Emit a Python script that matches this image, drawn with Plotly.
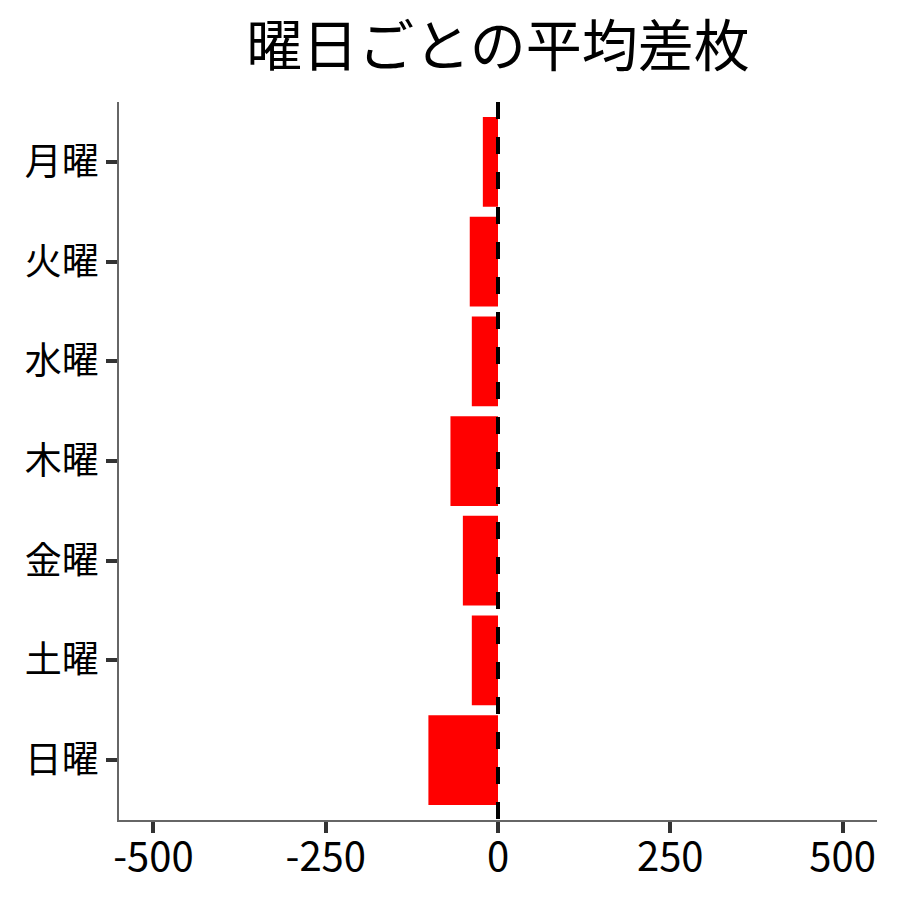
import plotly.graph_objects as go

days = ["月曜", "火曜", "水曜", "木曜", "金曜", "土曜", "日曜"]
avg_diff = [-22, -41, -38, -69, -51, -38, -101]
x_ticks = [-500, -250, 0, 250, 500]
title_text = "曜日ごとの平均差枚"

FONT = "Noto Sans CJK JP"

fig = go.Figure()
fig.add_trace(go.Bar(
    x=avg_diff, y=days, orientation="h",
    marker=dict(color="#FF0000", line=dict(width=0)),
    width=0.9,
))

fig.add_shape(type="line", xref="x", yref="paper",
              x0=0, x1=0, y0=1, y1=-0.017,
              line=dict(color="black", width=4, dash="17px,18px"))

fig.update_layout(
    width=900, height=900,
    margin=dict(l=111, r=31, t=94, b=88),
    plot_bgcolor="white", paper_bgcolor="white",
    showlegend=False,
    font=dict(family=FONT, color="black"),
    title=dict(text=title_text, x=0.5, xref="paper", xanchor="center",
               y=1 - 38 / 900, yanchor="middle",
               font=dict(family=FONT, size=56, color="black")),
    xaxis=dict(range=[-550, 550], tickvals=x_ticks,
               ticktext=[str(v) for v in x_ticks],
               showgrid=False, zeroline=False,
               showline=True, linecolor="#666666", linewidth=1.5,
               ticks="outside", ticklen=11, tickwidth=3.5, tickcolor="#333333",
               ticklabelstandoff=-10,
               tickfont=dict(family=FONT, size=40, color="black")),
    yaxis=dict(type="category", categoryorder="array", categoryarray=days,
               range=[6.6, -0.6],
               showgrid=False, zeroline=False,
               showline=True, linecolor="#666666", linewidth=1.5,
               ticks="outside", ticklen=11, tickwidth=3.5, tickcolor="#333333",
               tickfont=dict(family=FONT, size=37, color="black")),
)

fig.write_html("out.html")
